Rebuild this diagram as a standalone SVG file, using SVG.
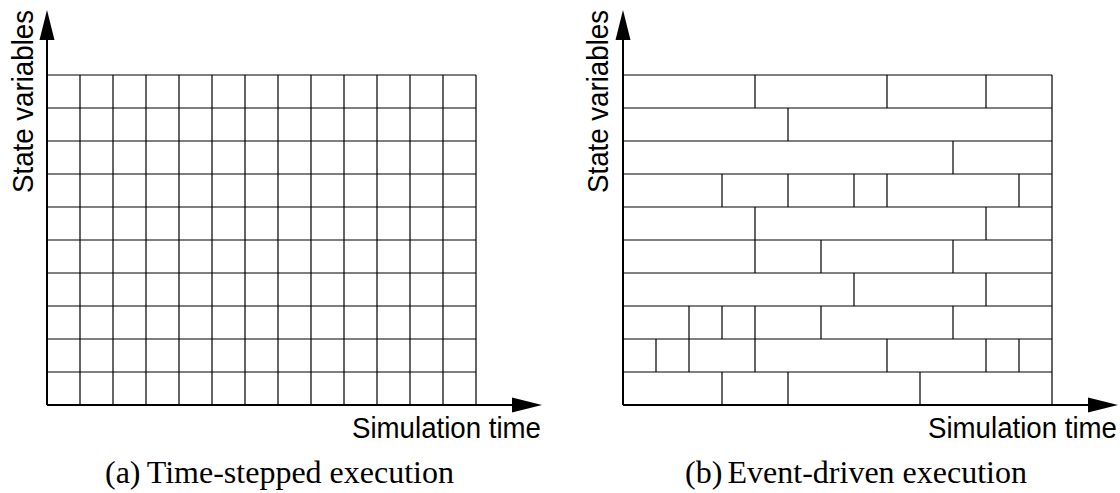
<svg xmlns="http://www.w3.org/2000/svg" width="1120" height="493" viewBox="0 0 1120 493">
<style>
.grid{fill:none;stroke:#000;stroke-width:1.2}
.axis{fill:none;stroke:#000;stroke-width:2}
.head{fill:#000}
.lbl{font-family:"Liberation Sans",Arial,sans-serif;font-size:29.5px;fill:#000}
.cap{font-family:"Liberation Serif","Times New Roman",serif;font-size:32px;fill:#000}
</style>
<rect width="1120" height="493" fill="#fff"/>
<g id="panel-a">
  <g id="grid-a">
    <path class="grid" d="M47 75H476M47 108H476M47 141H476M47 174H476M47 207H476M47 240H476M47 273H476M47 306H476M47 339H476M47 372H476
    M80 75V405M113 75V405M146 75V405M179 75V405M212 75V405M245 75V405M278 75V405M311 75V405M344 75V405M377 75V405M410 75V405M443 75V405M476 75V405"/>
  </g>
  <g id="axes-a">
    <path class="axis" d="M47 405V38M47 405H514"/>
    <polygon class="head" points="47,10 39.5,40 54.5,40"/>
    <polygon class="head" points="542,405 512,397.5 512,412.5"/>
  </g>
  <text class="lbl" transform="translate(33,101.5) rotate(-90)" text-anchor="middle" textLength="183" lengthAdjust="spacingAndGlyphs">State variables</text>
  <text class="lbl" x="541" y="438" text-anchor="end" textLength="189" lengthAdjust="spacingAndGlyphs">Simulation time</text>
  <text class="cap" x="105" y="483">(a)</text>
  <text class="cap" x="454" y="483" text-anchor="end">Time-stepped execution</text>
</g>
<g id="panel-b">
  <g id="grid-b">
    <path class="grid" d="M623 75H1052M623 108H1052M623 141H1052M623 174H1052M623 207H1052M623 240H1052M623 273H1052M623 306H1052M623 339H1052M623 372H1052M1052 75V405
    M755 75V108M887 75V108M986 75V108
    M788 108V141
    M953 141V174
    M722 174V207M788 174V207M854 174V207M887 174V207M1019 174V207
    M755 207V240M986 207V240
    M755 240V273M821 240V273M953 240V273
    M854 273V306M986 273V306
    M689 306V339M722 306V339M755 306V339M821 306V339M953 306V339
    M656 339V372M689 339V372M755 339V372M887 339V372M986 339V372M1019 339V372
    M722 372V405M788 372V405M920 372V405"/>
  </g>
  <g id="axes-b">
    <path class="axis" d="M623 405V38M623 405H1090"/>
    <polygon class="head" points="623,10 615.5,40 630.5,40"/>
    <polygon class="head" points="1118,405 1088,397.5 1088,412.5"/>
  </g>
  <text class="lbl" transform="translate(608,101.5) rotate(-90)" text-anchor="middle" textLength="183" lengthAdjust="spacingAndGlyphs">State variables</text>
  <text class="lbl" x="1117" y="438" text-anchor="end" textLength="189" lengthAdjust="spacingAndGlyphs">Simulation time</text>
  <text class="cap" x="685" y="483">(b)</text>
  <text class="cap" x="1027" y="483" text-anchor="end">Event-driven execution</text>
</g>
</svg>
